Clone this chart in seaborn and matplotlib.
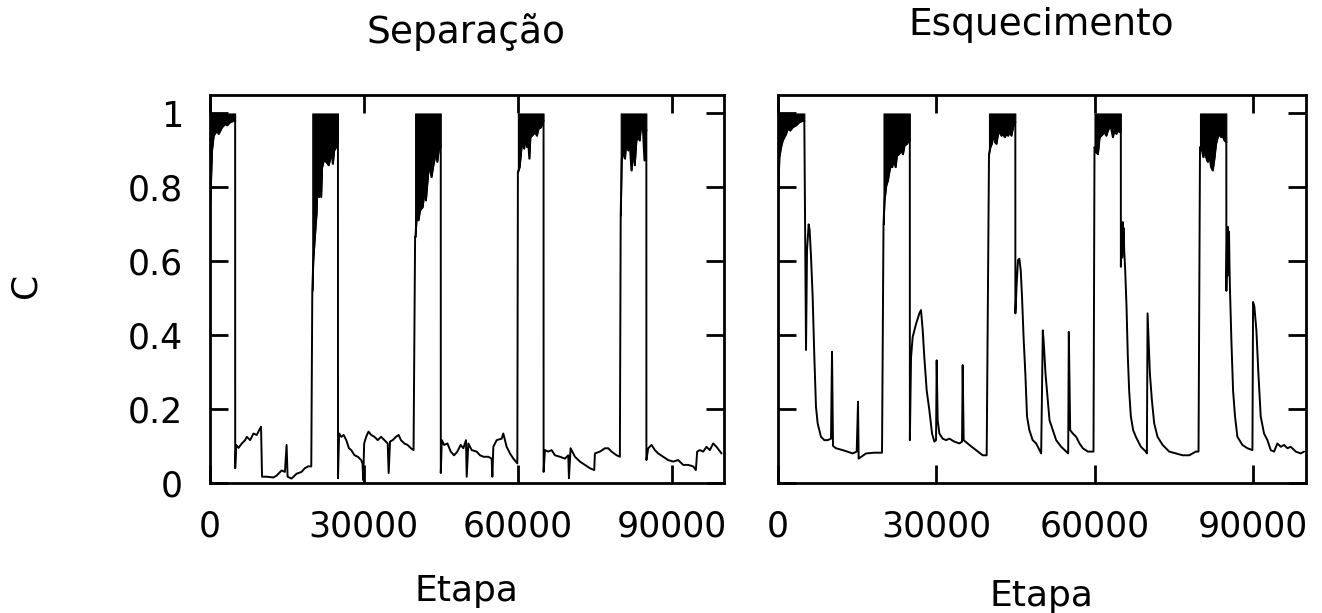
import numpy as np
import matplotlib
matplotlib.use("Agg")
import matplotlib.pyplot as plt
import seaborn as sns

# Fases de treino (C oscila rapidamente até 1 nestes intervalos)
fase_inicio = [0, 20000, 40000, 60000, 80000]
fase_fim = [5000, 25000, 45000, 65000, 85000]
c_topo = 1.0

# Separação: etapa e C (nas fases de treino, o limite inferior da oscilação)
sep_etapa = [
    0, 160, 480, 800, 1450, 1770, 2420, 3060, 3390, 4030, 4680, 4990,
    5000, 5190, 5640, 6290, 6930, 7260, 7900, 8550, 9190, 9840, 10030, 10220,
    11130, 12420, 13060, 14030, 14670, 15000, 15190, 15960, 16930, 17900,
    18540, 19190, 19800,
    20000, 20190, 20440, 20820, 20950, 21270, 21460, 21710, 21900, 22220,
    22720, 23170, 23480, 23800, 23990, 24240, 24620, 24870, 24990,
    25000, 25210, 25660, 26100, 26610, 27130, 27580, 28220, 28870, 29510,
    29770, 29900, 30090, 30480, 30930, 31450, 32090, 32740, 33380, 34030,
    34670, 34860, 35120, 35640, 36280, 36800, 37250, 37900, 38540, 39190, 39700,
    40000, 40060, 40320, 40630, 40950, 41460, 41900, 42090, 42530, 42850,
    43170, 43480, 43800, 44110, 44300, 44620, 44940, 44990,
    45000, 45190, 45640, 46290, 46930, 47580, 48220, 48860, 49390, 49900,
    50040, 50360, 51010, 51980, 52630, 53280, 54250, 54900, 55030, 55220,
    55870, 56840, 57160, 57810, 58460, 59110, 59890,
    60000, 60320, 60700, 60950, 61200, 61460, 61770, 61960, 62220, 62410,
    63040, 63350, 63670, 63990, 64490, 64750, 64990,
    65000, 65260, 65910, 66560, 67210, 68180, 69150, 69800, 69930, 70250,
    71100, 72070, 73040, 74010, 74850, 74980, 75960, 76930, 77580, 78220,
    79200, 79840,
    80000, 80190, 80510, 80820, 81140, 81460, 81770, 82090, 82410, 82720,
    83040, 83350, 83670, 83990, 84300, 84620, 84940, 84990,
    85000, 85350, 86000, 86650, 87300, 88270, 89240, 90210, 91180, 92160,
    93130, 94100, 94620, 94880, 95400, 96050, 96690, 97340, 97990, 98640, 99610,
]
sep_c = [
    0.76, 0.765, 0.90, 0.94, 0.954, 0.945, 0.963, 0.972, 0.968, 0.977, 0.98, 0.98,
    0.04, 0.103, 0.095, 0.107, 0.116, 0.125, 0.116, 0.134, 0.13, 0.148, 0.152, 0.017,
    0.017, 0.015, 0.02, 0.034, 0.03, 0.103, 0.017, 0.012, 0.025, 0.03,
    0.04, 0.045, 0.045,
    0.52, 0.603, 0.657, 0.729, 0.81, 0.774, 0.819, 0.774, 0.855, 0.873,
    0.869, 0.86, 0.878, 0.89, 0.864, 0.90, 0.909, 0.923, 0.925,
    0.013, 0.134, 0.125, 0.13, 0.116, 0.094, 0.089, 0.075, 0.071, 0.062,
    0.053, 0.008, 0.107, 0.125, 0.139, 0.13, 0.125, 0.116, 0.125, 0.116,
    0.107, 0.027, 0.112, 0.116, 0.125, 0.13, 0.116, 0.107, 0.103, 0.094, 0.089,
    0.666, 0.666, 0.724, 0.711, 0.738, 0.747, 0.80, 0.765, 0.837, 0.86,
    0.828, 0.855, 0.878, 0.905, 0.869, 0.905, 0.91, 0.91,
    0.027, 0.116, 0.103, 0.107, 0.085, 0.075, 0.085, 0.103, 0.094, 0.116,
    0.017, 0.107, 0.089, 0.085, 0.075, 0.071, 0.071, 0.066, 0.017, 0.098,
    0.116, 0.12, 0.134, 0.098, 0.08, 0.066, 0.053,
    0.841, 0.855, 0.909, 0.918, 0.905, 0.936, 0.909, 0.932, 0.878, 0.936,
    0.945, 0.95, 0.94, 0.959, 0.963, 0.977, 0.98,
    0.03, 0.089, 0.085, 0.089, 0.075, 0.071, 0.066, 0.075, 0.013, 0.094,
    0.071, 0.058, 0.049, 0.04, 0.035, 0.08, 0.085, 0.094, 0.094, 0.085,
    0.075, 0.071,
    0.724, 0.873, 0.90, 0.878, 0.936, 0.90, 0.918, 0.846, 0.90, 0.86,
    0.927, 0.936, 0.927, 0.972, 0.963, 0.873, 0.955, 0.955,
    0.062, 0.094, 0.103, 0.089, 0.08, 0.071, 0.062, 0.058, 0.062, 0.049,
    0.049, 0.045, 0.035, 0.085, 0.089, 0.085, 0.098, 0.089, 0.107, 0.098, 0.08,
]

# Esquecimento: etapa e C
esq_etapa = [
    0, 250, 570, 880, 1520, 1830, 2280, 2780, 3410, 4040, 4680, 4990,
    5310, 5500, 5810, 6000, 6260, 6570, 6890, 7200, 7520, 8150, 8780, 9420,
    10050, 10240, 10430, 11000, 12260, 14160, 14920, 15170, 15290, 16690,
    18260, 19720,
    20000, 20190, 20510, 20820, 21140, 21450, 21640, 21900, 22280, 22530,
    22910, 23350, 23670, 23980, 24420, 24800, 24990,
    25000, 25220, 25530, 26160, 26800, 27110, 27430, 27740, 28190, 28690,
    29200, 29640, 29960, 30080, 30270, 30590, 31220, 31850, 32480, 33430,
    34380, 34890, 35010, 35200, 36280, 37540, 38800, 39560,
    40000, 40250, 40510, 40760, 41070, 41390, 41710, 42020, 42340, 42650,
    42970, 43290, 43600, 43920, 44230, 44550, 44930, 44990,
    45000, 45250, 45500, 45760, 46010, 46260, 46580, 46890, 47210, 47650,
    48280, 48940, 49890, 50200, 50390, 50710, 51150, 51470, 52100, 52730,
    53680, 54630, 55010, 55130, 55390, 55890, 56520, 57160, 57790, 58740, 59810,
    60000, 60320, 60630, 60950, 61260, 61580, 61900, 62210, 62530, 62840,
    63160, 63480, 63790, 64110, 64420, 64740, 64990,
    65000, 65150, 65250, 65350, 65440, 65530, 65630, 65820, 66070, 66320,
    66570, 66890, 67330, 67840, 68790, 69740, 69930, 70060, 70250, 70500,
    70880, 71320, 71950, 72910, 74170, 75430, 76700, 77960, 79220, 79720,
    80000, 80380, 80630, 80880, 81140, 81450, 81770, 82090, 82400, 82720,
    83030, 83350, 83670, 83980, 84300, 84610, 84930, 84990,
    85000, 85120, 85200, 85300, 85400, 85500, 85600, 85690, 85950, 86270,
    86640, 87090, 88040, 88990, 89940, 90060, 90310, 90690, 91070, 91510,
    92140, 92780, 93410, 94040, 94670, 95310, 95940, 96570, 97200, 98150,
    99100, 99730,
]
esq_c = [
    0.765, 0.882, 0.909, 0.927, 0.945, 0.959, 0.954, 0.963, 0.968, 0.977, 0.98, 0.98,
    0.36, 0.63, 0.70, 0.684, 0.612, 0.504, 0.341, 0.206, 0.161, 0.125, 0.116, 0.116,
    0.12, 0.355, 0.10, 0.094, 0.089, 0.08, 0.085, 0.22, 0.066, 0.08,
    0.082, 0.082,
    0.70, 0.765, 0.805, 0.819, 0.846, 0.864, 0.855, 0.878, 0.855, 0.886,
    0.89, 0.90, 0.89, 0.914, 0.918, 0.927, 0.927,
    0.116, 0.34, 0.395, 0.43, 0.459, 0.468, 0.414, 0.34, 0.25, 0.197,
    0.134, 0.112, 0.116, 0.332, 0.17, 0.134, 0.12, 0.116, 0.12, 0.112,
    0.107, 0.112, 0.319, 0.116, 0.103, 0.089, 0.075, 0.075,
    0.89, 0.909, 0.918, 0.945, 0.923, 0.918, 0.945, 0.95, 0.94, 0.945,
    0.936, 0.945, 0.94, 0.95, 0.94, 0.963, 0.977, 0.977,
    0.459, 0.54, 0.603, 0.607, 0.576, 0.504, 0.386, 0.296, 0.18, 0.143,
    0.116, 0.107, 0.08, 0.413, 0.378, 0.296, 0.224, 0.17, 0.143, 0.116,
    0.098, 0.085, 0.08, 0.409, 0.143, 0.134, 0.125, 0.107, 0.094, 0.085, 0.085,
    0.909, 0.895, 0.89, 0.936, 0.94, 0.945, 0.95, 0.94, 0.954, 0.963,
    0.959, 0.936, 0.959, 0.945, 0.954, 0.95, 0.95,
    0.585, 0.70, 0.61, 0.706, 0.64, 0.69, 0.63, 0.576, 0.477, 0.34,
    0.25, 0.18, 0.143, 0.125, 0.098, 0.085, 0.08, 0.459, 0.386, 0.296,
    0.224, 0.161, 0.125, 0.103, 0.085, 0.08, 0.075, 0.075, 0.085, 0.085,
    0.909, 0.90, 0.882, 0.909, 0.882, 0.869, 0.886, 0.855, 0.846, 0.878,
    0.918, 0.936, 0.945, 0.936, 0.94, 0.927, 0.923, 0.923,
    0.52, 0.66, 0.56, 0.693, 0.60, 0.68, 0.58, 0.52, 0.386, 0.25,
    0.18, 0.125, 0.103, 0.094, 0.089, 0.49, 0.477, 0.413, 0.296, 0.18,
    0.134, 0.116, 0.089, 0.085, 0.107, 0.098, 0.103, 0.094, 0.098, 0.085,
    0.08, 0.085,
]

x_ticks = [0, 30000, 60000, 90000]
y_ticks = [0, 0.2, 0.4, 0.6, 0.8, 1.0]
y_tick_labels = ["0", "0.2", "0.4", "0.6", "0.8", "1"]
titulos = ["Separação", "Esquecimento"]
rotulo_x = "Etapa"
rotulo_y = "C"

sns.set_style("ticks")
plt.rcParams["font.family"] = ["DejaVu Sans"]

W, H = 1322, 613
fig = plt.figure(figsize=(W / 100, H / 100), dpi=100)
ax1 = fig.add_axes([209.5 / W, 130 / H, 514 / W, 388 / H])
ax2 = fig.add_axes([778 / W, 130 / H, 527.5 / W, 388 / H])


def desenha(ax, etapa, c, com_rotulos_y):
    x = np.asarray(etapa, dtype=float)
    y = np.asarray(c, dtype=float)
    # faixa preta da oscilação rápida durante o treino
    for a, b in zip(fase_inicio, fase_fim):
        m = (x >= a) & (x < b)
        ax.fill_between(x[m], y[m], c_topo, color="black", lw=0.8)
    sns.lineplot(x=x, y=y, ax=ax, estimator=None, sort=False,
                 color="black", linewidth=1.4)
    ax.set_xlim(0, 100000)
    ax.set_ylim(0, 1.05)
    ax.set_xticks(x_ticks)
    ax.set_xticklabels([str(t) for t in x_ticks])
    ax.set_yticks(y_ticks)
    ax.set_yticklabels(y_tick_labels)
    ax.tick_params(direction="in", length=13, width=2, top=True, right=True,
                   labelsize=25, pad=19, colors="black",
                   labelleft=com_rotulos_y)
    for s in ax.spines.values():
        s.set_linewidth(2)
        s.set_color("black")
        s.set_visible(True)
    ax.set_xlabel("")
    ax.set_ylabel("")


desenha(ax1, sep_etapa, sep_c, True)
desenha(ax2, esq_etapa, esq_c, False)


def texto(px, py, s, size, **kw):
    fig.text(px / W, 1 - py / H, s, fontsize=size, color="black", **kw)


texto(466, 43, titulos[0], 27, ha="center", va="baseline")
texto(1041, 35, titulos[1], 27, ha="center", va="baseline")
texto(466, 601, rotulo_x, 26, ha="center", va="baseline")
texto(1041, 606, rotulo_x, 26, ha="center", va="baseline")
texto(25, 285, rotulo_y, 26, ha="center", va="center", rotation=90)

fig.savefig("out.png", dpi=100, facecolor="white")
